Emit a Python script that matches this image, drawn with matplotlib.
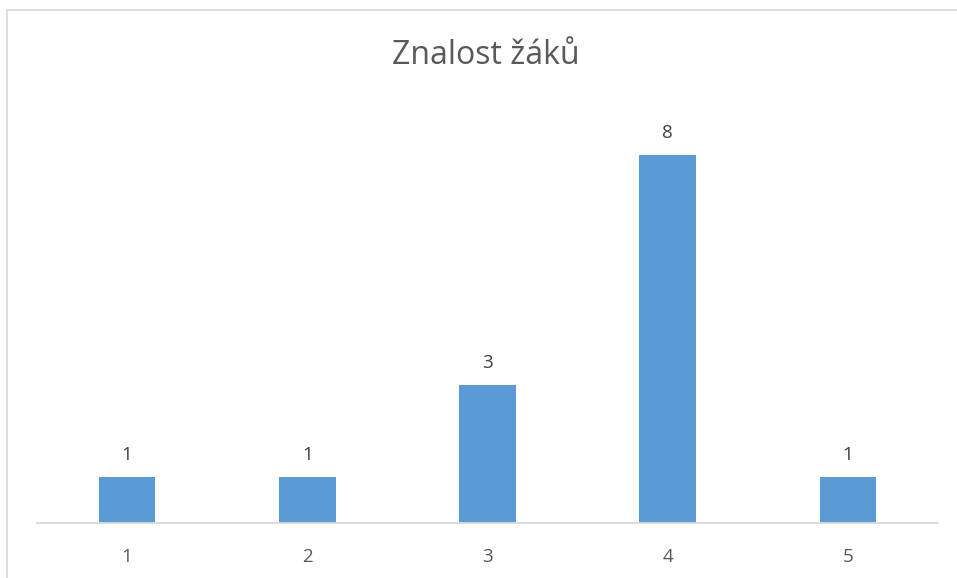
import matplotlib.pyplot as plt
from matplotlib.patches import Rectangle

# Hodnocení a počet žáků
znamky = ['1', '2', '3', '4', '5']
pocty = [1, 1, 3, 8, 1]

plt.rcParams['font.family'] = ['Open Sans', 'DejaVu Sans']

fig = plt.figure(figsize=(9.57, 5.78), dpi=100)
W, H = 957, 578

# Rámeček grafu (pravý a dolní okraj jsou mimo obrázek)
fig.patches.append(Rectangle((6.5 / W, -0.1), 1.2, 1 - 10.5 / H + 0.1,
                             transform=fig.transFigure, fill=False,
                             edgecolor='#d9d9d9', linewidth=1.3))

ax = fig.add_axes([37 / W, 55 / H, 901 / W, 414 / H])
x = range(len(znamky))
bars = ax.bar(x, pocty, width=0.315, color='#5b9bd5')
ax.set_xlim(-0.5, len(znamky) - 0.5)
ax.set_ylim(0, 9)

for s in ['top', 'right', 'left']:
    ax.spines[s].set_visible(False)
ax.spines['bottom'].set_color('#d9d9d9')
ax.spines['bottom'].set_linewidth(1.3)
ax.set_yticks([])
ax.set_xticks(list(x))
ax.set_xticklabels(znamky, fontsize=13.5, color='#595959')
ax.tick_params(axis='x', length=0, pad=18)

for b, v in zip(bars, pocty):
    ax.annotate(str(v), (b.get_x() + b.get_width() / 2, v),
                xytext=(0, 9), textcoords='offset points',
                ha='center', va='bottom', fontsize=13.5, color='#404040')

fig.text(486 / W, 1 - 55 / H, 'Znalost žáků', ha='center', va='center',
         fontsize=23, color='#595959')

fig.savefig('out.png', dpi=100)
